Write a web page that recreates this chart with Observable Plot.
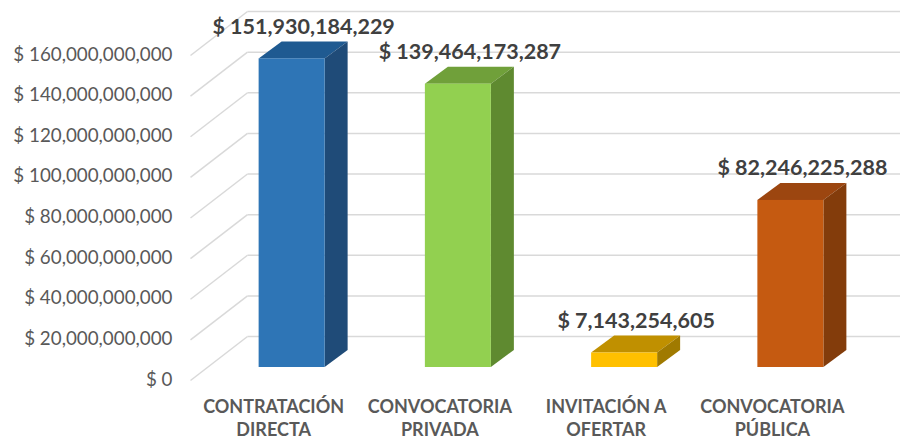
<!DOCTYPE html>
<html>
<head>
<meta charset="utf-8">
<script src="https://cdn.jsdelivr.net/npm/d3@7"></script>
<script src="https://cdn.jsdelivr.net/npm/@observablehq/plot@0.6"></script>
<style>
  html, body { margin: 0; padding: 0; background: #fff; }
  #chart { width: 900px; height: 441px; }
</style>
</head>
<body>
<div id="chart"></div>
<script>
const categories = ["CONTRATACIÓN\nDIRECTA", "CONVOCATORIA\nPRIVADA", "INVITACIÓN A\nOFERTAR", "CONVOCATORIA\nPÚBLICA"];
const values = [151930184229, 139464173287, 7143254605, 82246225288];
const frontColors = ["#2E75B6", "#92D050", "#FFC000", "#C55A11"];
const topColors = ["#1F5A91", "#70A03A", "#C09000", "#9C4610"];
const sideColors = ["#1F4B78", "#5F8A30", "#A07A00", "#833C0B"];
const yTicks = [0, 20e9, 40e9, 60e9, 80e9, 100e9, 120e9, 140e9, 160e9];

// geometry of the pseudo-3D projection (in data units)
const W = 900, H = 441;
const mL = 190, mR = 45, mT = 55, mB = 61;
const unitX = 1 / ((W - mL - mR) / 4);          // x units per pixel
const unitY = 160e9 / (H - mT - mB);            // value units per pixel
const wallDX = 57 * unitX, wallDY = 44 * unitY; // depth of the floor / side wall
const barShift = 18.5 * unitX, barBase = 13 * unitY;
const barHalf = 33 * unitX;
const barDX = 23 * unitX, barDY = 17 * unitY;

const bars = categories.map((c, i) => {
  const xc = i + barShift;
  return {i, cat: c, v: values[i], xL: xc - barHalf, xR: xc + barHalf, y0: barBase, y1: barBase + values[i],
          front: frontColors[i], top: topColors[i], side: sideColors[i]};
});
const sidePts = bars.flatMap(b => [
  {k: b.i, x: b.xR, y1: b.y0, y2: b.y1, fill: b.side},
  {k: b.i, x: b.xR + barDX, y1: b.y0 + barDY, y2: b.y1 + barDY, fill: b.side}
]);
const topPts = bars.flatMap(b => [
  {k: b.i, y: b.y1, x1: b.xL, x2: b.xR, fill: b.top},
  {k: b.i, y: b.y1 + barDY, x1: b.xL + barDX, x2: b.xR + barDX, fill: b.top}
]);
const fmt = d3.format(",");

const chart = Plot.plot({
  width: W, height: H,
  marginLeft: mL, marginRight: mR, marginTop: mT, marginBottom: mB,
  style: {fontFamily: "Lato, 'Open Sans', sans-serif", background: "#fff"},
  x: {type: "linear", domain: [-0.5, 3.5], axis: null},
  y: {domain: [0, 160e9], axis: null},
  color: {type: "identity"},
  marks: [
    // back wall gridlines
    Plot.link(yTicks, {x1: -0.5 + wallDX, x2: 3.5 + wallDX + 1, y1: d => d + wallDY, y2: d => d + wallDY,
      stroke: "#D9D9D9", strokeWidth: 1.5}),
    // side wall gridlines
    Plot.link(yTicks, {x1: -0.5, x2: -0.5 + wallDX, y1: d => d, y2: d => d + wallDY,
      stroke: "#D9D9D9", strokeWidth: 1.5}),
    // y tick labels
    Plot.text(yTicks, {x: -0.5, y: d => d, text: d => "$ " + fmt(d), textAnchor: "end", dx: -18, dy: -1,
      fontSize: 18.8, fill: "#595959"}),
    // bars: top, side, front
    Plot.areaX(topPts, {y: "y", x1: "x1", x2: "x2", z: "k", fill: "fill"}),
    Plot.areaY(sidePts, {x: "x", y1: "y1", y2: "y2", z: "k", fill: "fill"}),
    Plot.rect(bars, {x1: "xL", x2: "xR", y1: "y0", y2: "y1", fill: "front"}),
    // value labels
    Plot.text(bars, {x: d => d.xL + barHalf + barDX / 2, y: d => d.y1 + barDY, text: d => "$ " + fmt(d.v),
      dy: -15, fontSize: 21.5, fontWeight: "bold", fill: "#404040"}),
    // category labels
    Plot.text(bars, {x: "i", y: 0, text: "cat", lineAnchor: "top", dy: 15, lineHeight: 1.33,
      fontSize: 18, fontWeight: "bold", fill: "#595959"})
  ]
});
document.getElementById("chart").appendChild(chart);
</script>
</body>
</html>
